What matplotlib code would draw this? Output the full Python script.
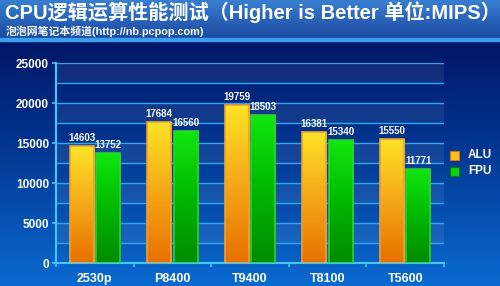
import numpy as np
import matplotlib.pyplot as plt
from matplotlib.colors import LinearSegmentedColormap

# data
cpus = ['2530p', 'P8400', 'T9400', 'T8100', 'T5600']
alu = [14603, 17684, 19759, 16381, 15550]
fpu = [13752, 16560, 18503, 15340, 11771]
yticks = [0, 5000, 10000, 15000, 20000, 25000]

plt.rcParams['font.family'] = ['Liberation Sans', 'Noto Sans CJK SC', 'DejaVu Sans']

fig = plt.figure(figsize=(5, 2.86), dpi=100)

# background
bg = fig.add_axes([0, 0, 1, 1], zorder=-10)
bg.axis('off')
bg_cmap = LinearSegmentedColormap.from_list('bg', ['#000a58', '#02358f', '#0a6ad0'])
grad = np.linspace(0, 1, 256).reshape(-1, 1)
bg.imshow(grad, aspect='auto', cmap=bg_cmap, extent=[0, 1, 0, 1], origin='upper')
head_cmap = LinearSegmentedColormap.from_list('hd', ['#3a80d2', '#1a4aa2'])
bg.imshow(grad, aspect='auto', cmap=head_cmap, extent=[0, 1, 1 - 38 / 286, 1], origin='upper')
bg.axhspan(1 - 41 / 286, 1 - 38 / 286, color='#3aa0ee')
bg.set_xlim(0, 1)
bg.set_ylim(0, 1)

fig.text(0.01, 0.995, 'CPU逻辑运算性能测试（Higher is Better 单位:MIPS）',
         color='white', fontsize=14.5, fontweight='bold', va='top', ha='left',
         family=['Liberation Sans', 'Noto Sans CJK SC'])
fig.text(0.012, 0.912, '泡泡网笔记本频道(http://nb.pcpop.com)',
         color='white', fontsize=7.8, fontweight='bold', va='top', ha='left',
         family=['Liberation Sans', 'Noto Sans CJK SC'])

ax = fig.add_axes([56 / 500, 1 - 263 / 286, 388 / 500, 200 / 286])
ax.patch.set_alpha(0)
ax.set_xlim(0, len(cpus))
ax.set_ylim(0, 25000)

# alternating bands and grid
for i, y0 in enumerate(np.arange(0, 25000, 2500)):
    if i % 2 == 1:
        ax.axhspan(y0, y0 + 2500, color='white', alpha=0.07, lw=0, zorder=0)
for y in np.arange(2500, 25001, 2500):
    ax.axhline(y, color='#2fa6f0', lw=1, zorder=1)

alu_cmap = LinearSegmentedColormap.from_list('alu', ['#e87000', '#f5a818', '#ffe426'])
fpu_cmap = LinearSegmentedColormap.from_list('fpu', ['#008a00', '#00b800', '#10e810'])

x = np.arange(len(cpus)) + 0.5
w = 0.31
off = 0.17

def grad_bars(xs, vals, cmap, edge):
    bars = ax.bar(xs, vals, width=w, facecolor='none', edgecolor=edge, lw=1.2, zorder=3)
    for b in bars:
        im = ax.imshow(grad, aspect='auto', cmap=cmap, origin='lower',
                       extent=[b.get_x(), b.get_x() + b.get_width(), 0, b.get_height()],
                       zorder=2)
        im.set_clip_path(b)
    return bars

grad_bars(x - off, alu, alu_cmap, '#f0a030')
grad_bars(x + off, fpu, fpu_cmap, '#30d030')
ax.set_xlim(0, len(cpus))
ax.set_ylim(0, 25000)

for xi, a, f in zip(x, alu, fpu):
    ax.text(xi - off, a + 350, str(a), color='white', fontsize=7, fontweight='bold',
            ha='center', va='bottom', zorder=5)
    ax.text(xi + off, f + 350, str(f), color='white', fontsize=7, fontweight='bold',
            ha='center', va='bottom', zorder=5)

for s in ['top', 'right']:
    ax.spines[s].set_visible(False)
for s in ['left', 'bottom']:
    ax.spines[s].set_color('#40c8ff')
    ax.spines[s].set_linewidth(1.5)

ax.set_yticks(yticks)
ax.set_yticklabels([str(v) for v in yticks], color='white', fontsize=8.5, fontweight='bold')
ax.tick_params(axis='y', colors='#40c8ff', length=3, width=1.2, labelcolor='white', pad=2)
ax.set_xticks(np.arange(0, len(cpus) + 1))
ax.set_xticklabels([])
ax.tick_params(axis='x', colors='#40c8ff', length=3, width=1.2, direction='out')
for xi, c in zip(x, cpus):
    ax.text(xi, -1300, c, color='white', fontsize=9, fontweight='bold',
            ha='center', va='top', transform=ax.transData)

# legend
for yy, col, ec, lab in [(155, '#ffc020', '#e07000', 'ALU'), (171, '#10d010', '#008000', 'FPU')]:
    fig.patches.append(plt.Rectangle((450 / 500, 1 - (yy + 4.5) / 286), 9 / 500, 9 / 286,
                                     facecolor=col, edgecolor=ec, lw=0.8,
                                     transform=fig.transFigure, figure=fig))
    fig.text(468 / 500, 1 - yy / 286, lab, color='white', fontsize=8.5,
             fontweight='bold', va='center', ha='left')

fig.savefig('out.png', dpi=100)
